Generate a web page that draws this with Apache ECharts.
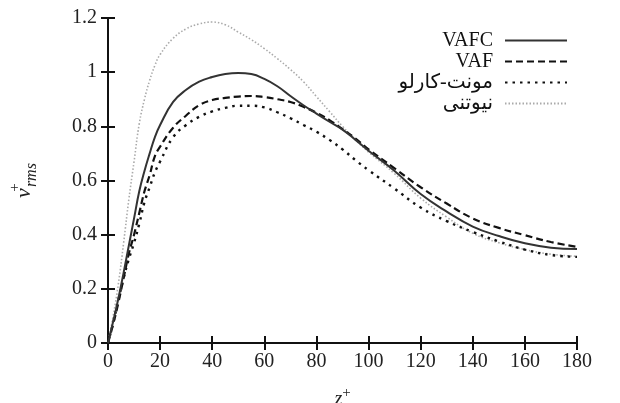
<!DOCTYPE html>
<html>
<head>
<meta charset="utf-8">
<script src="https://cdn.jsdelivr.net/npm/echarts@6/dist/echarts.min.js"></script>
<style>html,body{margin:0;padding:0;background:#fff;}#c{width:620px;height:403px;}</style>
</head>
<body>
<div id="c"></div>
<script>
const zPlus = [0,2,4,6,8,10,12,14,16,18,20,25,30,35,40,45,50,55,60,65,70,75,80,85,90,95,100,110,120,130,140,150,160,170,180];
const vafc = [0,0.08,0.165,0.26,0.36,0.46,0.56,0.635,0.70,0.76,0.805,0.89,0.935,0.965,0.982,0.993,0.997,0.993,0.975,0.948,0.912,0.878,0.847,0.817,0.788,0.75,0.71,0.635,0.55,0.485,0.43,0.395,0.368,0.352,0.347];
const vaf = [0,0.07,0.15,0.24,0.33,0.40,0.48,0.56,0.62,0.69,0.725,0.795,0.84,0.878,0.897,0.905,0.91,0.912,0.908,0.90,0.89,0.872,0.85,0.823,0.79,0.755,0.715,0.645,0.575,0.515,0.46,0.425,0.398,0.373,0.355];
const monteCarlo = [0,0.075,0.16,0.24,0.31,0.37,0.44,0.52,0.575,0.63,0.67,0.76,0.805,0.835,0.855,0.868,0.876,0.876,0.87,0.852,0.83,0.805,0.78,0.75,0.715,0.675,0.638,0.57,0.50,0.45,0.41,0.375,0.345,0.325,0.318];
const newtonian = [0,0.1,0.22,0.37,0.53,0.67,0.81,0.90,0.97,1.025,1.065,1.125,1.16,1.178,1.185,1.175,1.148,1.12,1.087,1.05,1.01,0.965,0.91,0.855,0.80,0.75,0.705,0.625,0.535,0.465,0.405,0.37,0.345,0.328,0.32];
const seriesNames = ['VAFC','VAF','مونت-کارلو','نیوتنی'];
const xTicks = {min:0, max:180, interval:20};
const yTicks = {min:0, max:1.2, interval:0.2};

const zip = a => zPlus.map((z,i)=>[z,a[i]]);
const serif = 'Liberation Serif, DejaVu Serif, DejaVu Sans, serif';
const chart = echarts.init(document.getElementById('c'));
const axisLine = {show:true, lineStyle:{color:'#111', width:2}};
const tick = {show:true, inside:true, length:7, lineStyle:{color:'#111', width:2}};
chart.setOption({
  animation:false,
  backgroundColor:'#fff',
  grid:{left:108, right:43, top:18, bottom:60, outerBoundsMode:'none', containLabel:false},
  legend:{
    orient:'vertical', right:47, top:25, align:'right',
    itemWidth:62, itemHeight:12, itemGap:0,
    itemStyle:{opacity:0},
    textStyle:{fontFamily:serif, fontSize:20, color:'#111', lineHeight:21, padding:[0,7,0,0]},
    data:seriesNames
  },
  xAxis:[
    {type:'value', min:xTicks.min, max:xTicks.max, interval:xTicks.interval, position:'bottom',
     axisLine, axisTick:tick, splitLine:{show:false},
     axisLabel:{fontFamily:serif, fontSize:20, color:'#222', margin:9},
     name:'{z|z}{p|+}', nameLocation:'middle', nameGap:43,
     nameTextStyle:{rich:{z:{fontFamily:serif, fontStyle:'italic', fontSize:20, color:'#222', verticalAlign:'bottom', lineHeight:24},
                          p:{fontFamily:serif, fontSize:15, color:'#222', verticalAlign:'top', lineHeight:24}}}},
    {type:'value', min:xTicks.min, max:xTicks.max, interval:xTicks.interval, position:'top',
     axisLine, axisTick:tick, axisLabel:{show:false}, splitLine:{show:false}}
  ],
  yAxis:[
    {type:'value', min:yTicks.min, max:yTicks.max, interval:yTicks.interval, position:'left',
     axisLine, axisTick:tick, splitLine:{show:false},
     axisLabel:{fontFamily:serif, fontSize:20, color:'#222', margin:11},
     name:'{v|v}{p|+}{r|rms}', nameLocation:'middle', nameGap:68, nameRotate:90,
     nameTextStyle:{rich:{
       v:{fontFamily:serif, fontStyle:'italic', fontSize:22, color:'#222', lineHeight:32, verticalAlign:'middle'},
       p:{fontFamily:serif, fontSize:15, color:'#222', lineHeight:32, verticalAlign:'top', width:1},
       r:{fontFamily:serif, fontStyle:'italic', fontSize:16, color:'#222', lineHeight:32, verticalAlign:'bottom'}
     }}},
    {type:'value', min:yTicks.min, max:yTicks.max, interval:yTicks.interval, position:'right',
     axisLine, axisTick:tick, axisLabel:{show:false}, splitLine:{show:false}}
  ],
  series:[
    {name:seriesNames[0], type:'line', smooth:0.45, symbol:'none', data:zip(vafc),
     lineStyle:{color:'#333', width:2, type:'solid'}, itemStyle:{color:'#333'}, z:4},
    {name:seriesNames[1], type:'line', smooth:0.45, symbol:'none', data:zip(vaf),
     lineStyle:{color:'#111', width:2.2, type:[7,4]}, itemStyle:{color:'#111'}, z:3},
    {name:seriesNames[2], type:'line', smooth:0.45, symbol:'none', data:zip(monteCarlo),
     lineStyle:{color:'#111', width:2.4, type:[2.5,5]}, itemStyle:{color:'#111'}, z:3},
    {name:seriesNames[3], type:'line', smooth:0.45, symbol:'none', data:zip(newtonian),
     lineStyle:{color:'#aaa', width:1.6, type:[1.5,2]}, itemStyle:{color:'#aaa'}, z:2}
  ]
});
</script>
</body>
</html>
